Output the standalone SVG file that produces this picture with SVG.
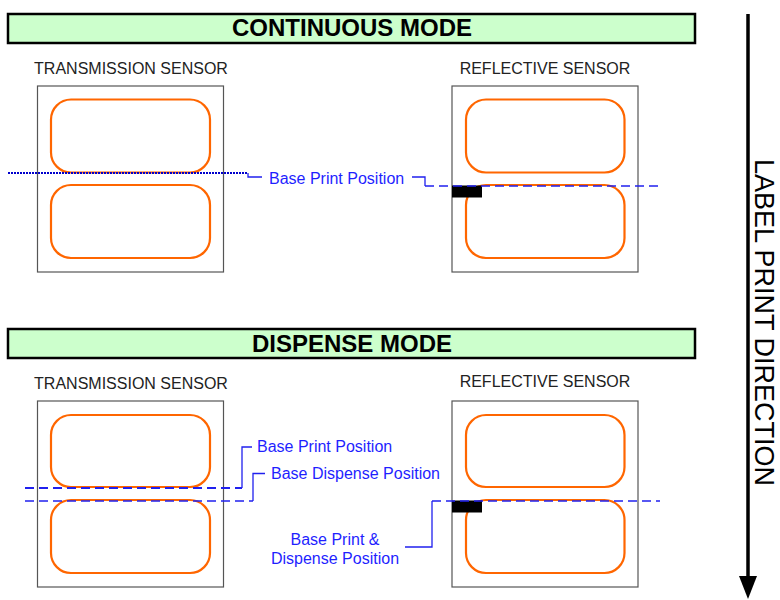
<svg xmlns="http://www.w3.org/2000/svg" width="780" height="600" viewBox="0 0 780 600">
<style>
.hdr{fill:#ccffcc;stroke:#000;stroke-width:2.5}
.htxt{font-family:"Liberation Sans",Arial,sans-serif;font-weight:bold;font-size:24px;fill:#000;text-anchor:middle}
.slab{font-family:"Liberation Sans",Arial,sans-serif;font-size:16px;fill:#222;text-anchor:middle}
.box{fill:#fff;stroke:#555;stroke-width:1.2}
.lbl{fill:none;stroke:#ff6600;stroke-width:2.2}
.btxt{font-family:"Liberation Sans",Arial,sans-serif;font-size:16px;fill:#1f1fff}
.dash{fill:none;stroke:#2020ee;stroke-width:1.6;stroke-dasharray:9,5}
.lead{fill:none;stroke:#2020ee;stroke-width:1.3}
.dot{fill:none;stroke:#0000cc;stroke-width:2;stroke-dasharray:2,1}
.mark{fill:#000}
</style>

<g id="continuous-header">
<rect class="hdr" x="8" y="14" width="687" height="29"/>
<text class="htxt" x="352" y="35.5">CONTINUOUS MODE</text>
</g>

<g id="cont-transmission">
<text class="slab" x="131" y="74">TRANSMISSION SENSOR</text>
<rect class="box" x="37.5" y="86" width="186" height="186"/>
<rect class="lbl" x="51" y="99.5" width="159" height="73" rx="20"/>
<rect class="lbl" x="51" y="185" width="159" height="73" rx="20"/>
</g>

<g id="cont-reflective">
<text class="slab" x="545" y="74">REFLECTIVE SENSOR</text>
<rect class="box" x="452" y="86" width="186" height="186"/>
<rect class="lbl" x="466" y="99.5" width="158.5" height="73" rx="20"/>
<rect class="lbl" x="466" y="185" width="158.5" height="73" rx="20"/>
<rect class="mark" x="452" y="185.5" width="30" height="12"/>
</g>

<g id="dispense-header">
<rect class="hdr" x="8" y="329" width="687" height="29"/>
<text class="htxt" x="352" y="351.5">DISPENSE MODE</text>
</g>

<g id="disp-transmission">
<text class="slab" x="131" y="389">TRANSMISSION SENSOR</text>
<rect class="box" x="37.5" y="401" width="186" height="186"/>
<rect class="lbl" x="51" y="415" width="159" height="72" rx="20"/>
<rect class="lbl" x="51" y="500" width="159" height="73" rx="20"/>
</g>

<g id="disp-reflective">
<text class="slab" x="545" y="387">REFLECTIVE SENSOR</text>
<rect class="box" x="452" y="401" width="186" height="186"/>
<rect class="lbl" x="466" y="415" width="158.5" height="72" rx="20"/>
<rect class="lbl" x="466" y="500" width="158.5" height="73" rx="20"/>
<rect class="mark" x="452" y="500.5" width="30" height="12"/>
</g>

<g id="connectors">
<path class="dot" d="M8,173 H248"/>
<path class="lead" d="M248,173 V177 H262"/>
<path class="lead" d="M412,177 H425 V186"/>
<path class="dash" d="M425,186 H662"/>
<path class="dash" d="M25,488 H242" style="stroke-width:2"/>
<path class="lead" d="M242,488 V447 H252"/>
<path class="dash" d="M25,501 H253"/>
<path class="lead" d="M253,501 V473.5 H265"/>
<path class="dash" d="M432,501 H660"/>
<path class="lead" d="M432,501 V547 H405"/>
<path d="M748,14 V578" stroke="#000" stroke-width="3.5" fill="none"/>
<path d="M739,576 L757,576 L748,599 Z" fill="#000"/>
</g>

<g id="labels">
<text class="btxt" x="269" y="183.5">Base Print Position</text>
<text class="btxt" x="257" y="452">Base Print Position</text>
<text class="btxt" x="271" y="479">Base Dispense Position</text>
<text class="btxt" x="335" y="545" text-anchor="middle">Base Print &amp;</text>
<text class="btxt" x="335" y="563.5" text-anchor="middle">Dispense Position</text>
<text transform="translate(755,322.5) rotate(90)" font-family="'Liberation Sans',Arial,sans-serif" font-size="27" fill="#000" text-anchor="middle">LABEL PRINT DIRECTION</text>
</g>
</svg>
